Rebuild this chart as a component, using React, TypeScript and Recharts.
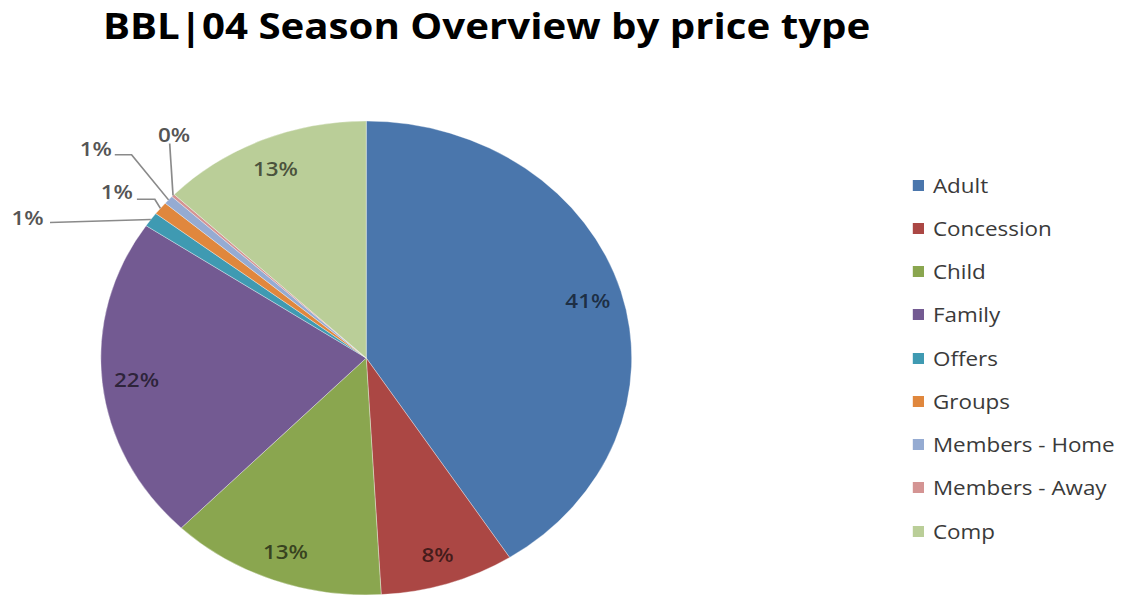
import React from 'react';
import { PieChart, Pie, Cell, Legend } from 'recharts';

const categories = ['Adult', 'Concession', 'Child', 'Family', 'Offers', 'Groups', 'Members - Home', 'Members - Away', 'Comp'];
const shares = [41, 8.2, 13.2, 22.2, 1.0, 0.9, 0.6, 0.2, 12.9];
const colors = ['#4A76AC', '#AB4744', '#8AA64F', '#735A92', '#3F9AB2', '#E0873D', '#95ABD2', '#D49493', '#BACE98'];
const title = 'BBL|04 Season Overview by price type';

// leader-line layout for the tiny slices (offsets from the slice's outer edge point)
const outsideLayout: Record<number, { pts: number[][]; text: number[] }> = {
  4: { pts: [[0, 0], [-90, 3]], text: [-110, -3] },
  5: { pts: [[0, 0], [-5, -9], [-21, -9]], text: [-39, -17] },
  6: { pts: [[0, 0], [-33, -45], [-48, -45]], text: [-65, -52] },
  7: { pts: [[0, 0], [-3, -52]], text: [1, -61] },
};

const data = categories.map((name, i) => ({ name, value: shares[i] }));
const RADIAN = Math.PI / 180;
const FONT = '"Open Sans", "Noto Sans", sans-serif';

const renderLabel = (props: any) => {
  const { cx, cy, midAngle, outerRadius, percent, index } = props;
  const pct = `${Math.round(percent * 100)}%`;
  const cos = Math.cos(-midAngle * RADIAN);
  const sin = Math.sin(-midAngle * RADIAN);
  const lay = outsideLayout[index];
  if (lay) {
    const ex = cx + outerRadius * cos;
    const ey = cy + outerRadius * sin;
    const d = lay.pts.map((p, k) => `${k === 0 ? 'M' : 'L'}${ex + p[0]},${ey + p[1]}`).join(' ');
    return (
      <g key={`lbl-${index}`}>
        <path d={d} stroke="#8a8a8a" strokeWidth={1.5} fill="none" />
        <text x={ex + lay.text[0]} y={ey + lay.text[1]} textAnchor="middle" dominantBaseline="central"
          fontFamily={FONT} fontSize={20} fontWeight={600} fill="#555">{pct}</text>
      </g>
    );
  }
  const r = outerRadius * 0.87;
  return (
    <text key={`lbl-${index}`} x={cx + r * cos} y={cy + r * sin} textAnchor="middle" dominantBaseline="central"
      fontFamily={FONT} fontSize={20} fontWeight={600} fill="rgba(0,0,0,0.62)">{pct}</text>
  );
};

const renderLegend = () => (
  <div style={{ fontFamily: FONT }}>
    {categories.map((c, i) => (
      <div key={c} style={{ position: 'absolute', left: 0, top: i * 43.25, height: 24, display: 'flex', alignItems: 'center', whiteSpace: 'nowrap' }}>
        <span style={{ display: 'inline-block', width: 10, height: 11, background: colors[i], marginRight: 8 }} />
        <span style={{ fontSize: 20, color: '#3a3a3a' }}>{c}</span>
      </div>
    ))}
  </div>
);

export default function App() {
  return (
    <div style={{ position: 'absolute', left: 0, top: 0, width: 1134, height: 597, background: '#fff', overflow: 'hidden' }}>
      <div style={{ position: 'absolute', left: 0, top: 0, width: 1013, height: 597, transform: 'scaleX(1.12)', transformOrigin: '0 0' }}>
        <svg width={1013} height={60} style={{ position: 'absolute', left: 0, top: 0 }}>
          <text x={92} y={39} textLength={685} lengthAdjust="spacingAndGlyphs" fontFamily={FONT} fontWeight={700} fontSize={35} fill="#000">{title}</text>
        </svg>
        <div style={{ position: 'absolute', left: 0, top: 0 }}>
          <PieChart width={1013} height={597} margin={{ top: 0, right: 0, bottom: 0, left: 0 }}>
            <Pie data={data} dataKey="value" nameKey="name" cx={327} cy={358} outerRadius={237}
              startAngle={90} endAngle={-270} isAnimationActive={false} label={renderLabel} labelLine={false}
              stroke="rgba(255,255,255,0.4)" strokeWidth={0.8}>
              {data.map((d, i) => <Cell key={d.name} fill={colors[i]} />)}
            </Pie>
            <Legend content={renderLegend} wrapperStyle={{ position: 'absolute', left: 815, top: 173, width: 190, height: 400 }} />
          </PieChart>
        </div>
      </div>
    </div>
  );
}
